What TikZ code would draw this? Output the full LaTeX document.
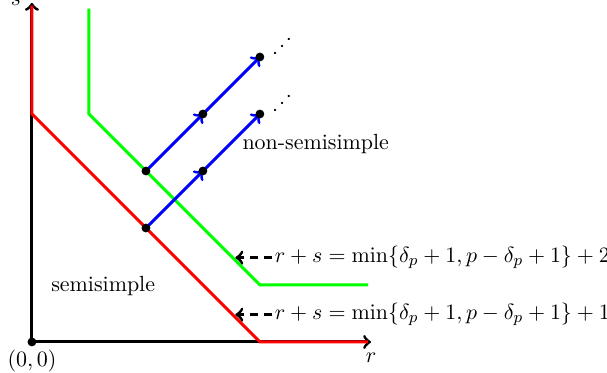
\documentclass[tikz,border=0pt,11pt]{standalone}
\usepackage{amsmath,amssymb}
\usepackage{xcolor}
\usepackage{tikz}

\tikzset{
  axis/.style={line width=1.5pt,->},
  bound/.style={line width=1.5pt},
  moveup/.style={line width=1.5pt,blue,->},
  dot/.style={circle,fill=black,inner sep=0pt,minimum size=4.4pt},
  note/.style={line width=1.5pt,dash pattern=on 4pt off 3pt,->}
}

\begin{document}
\begin{tikzpicture}
  \useasboundingbox (-0.56,-0.54) rectangle (10.09,6.0);
  % axes
  \coordinate (O) at (0,0);
  \coordinate (rmax) at (5.95,0);
  \coordinate (smax) at (0,5.95);
  \draw[axis] (O) -- (rmax) node[below,yshift=-1pt](rlab){$r$};
  \draw[axis] (O) -- (smax) node[left,xshift=-1pt,yshift=1pt](slab){$s$};
  % boundaries
  \draw[bound,red] (0,5.9) -- (0,4) -- (4,0) -- (5.9,0);
  \draw[bound,green] (1,5.85) -- (1,4) -- (4,1) -- (5.9,1);
  % shifts
  \coordinate (a) at (2,2);
  \coordinate (b) at (3,3);
  \coordinate (c) at (4,4);
  \coordinate (d) at (2,3);
  \coordinate (e) at (3,4);
  \coordinate (f) at (4,5);
  \draw[moveup] (a) -- (b);
  \draw[moveup] (b) -- (c);
  \draw[moveup] (d) -- (e);
  \draw[moveup] (e) -- (f);
  \foreach \p in {a,b,c,d,e,f}
    \node[dot] (dot\p) at (\p) {};
  \node[rotate=45] (dots1) at (4.42,4.2) {$\cdots$};
  \node[rotate=45] (dots2) at (4.42,5.2) {$\cdots$};
  \node[dot] (origin) at (O) {};
  \node[below] (olab) at (O) {$(0,0)$};
  % regions
  \node (ss) at (1.25,0.98) {semisimple};
  \node (nss) at (4.98,3.47) {non-semisimple};
  % labels of the two lines
  \coordinate (tip1) at (3.57,0.48);
  \coordinate (tip2) at (3.57,1.48);
  \node[right,inner sep=1pt] (eq1) at (4.22,0.48) {$r+s=\min\{\delta_p+1,p-\delta_p+1\}+1$};
  \node[right,inner sep=1pt] (eq2) at (4.22,1.48) {$r+s=\min\{\delta_p+1,p-\delta_p+1\}+2$};
  \draw[note] (eq1.west) -- (tip1);
  \draw[note] (eq2.west) -- (tip2);
\end{tikzpicture}
\end{document}
